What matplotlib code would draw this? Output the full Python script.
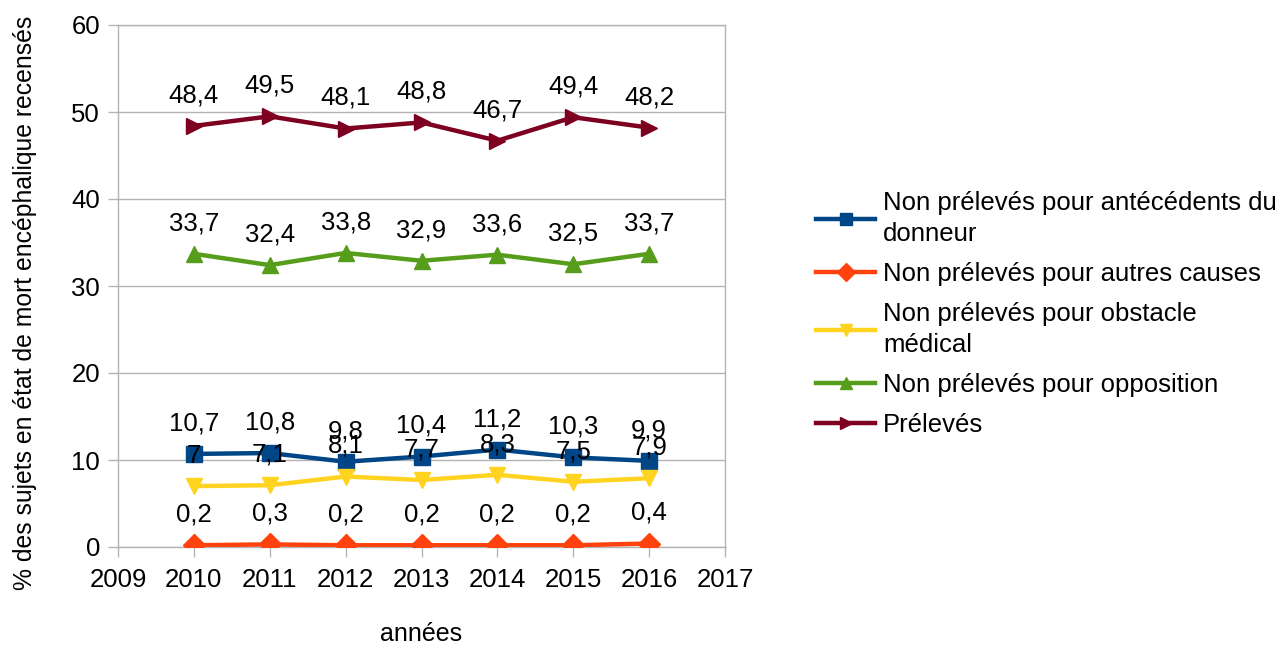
import matplotlib
matplotlib.use("Agg")
import matplotlib.pyplot as plt

plt.rcParams['font.family'] = ['Liberation Sans', 'DejaVu Sans']

years = [2010, 2011, 2012, 2013, 2014, 2015, 2016]
labels = [
    "Non prélevés pour antécédents du\ndonneur",
    "Non prélevés pour autres causes",
    "Non prélevés pour obstacle\nmédical",
    "Non prélevés pour opposition",
    "Prélevés",
]
antecedents = [10.7, 10.8, 9.8, 10.4, 11.2, 10.3, 9.9]
autres = [0.2, 0.3, 0.2, 0.2, 0.2, 0.2, 0.4]
obstacle = [7.0, 7.1, 8.1, 7.7, 8.3, 7.5, 7.9]
opposition = [33.7, 32.4, 33.8, 32.9, 33.6, 32.5, 33.7]
preleves = [48.4, 49.5, 48.1, 48.8, 46.7, 49.4, 48.2]

series = [antecedents, autres, obstacle, opposition, preleves]
colors = ["#004586", "#ff420e", "#ffd320", "#579d1c", "#7e0021"]
markers = ["s", "D", "v", "^", ">"]

FS = 18.5

fig = plt.figure(figsize=(12.78, 6.46), dpi=100)
ax = fig.add_axes([118/1278, 1-547/646, (725-118)/1278, (547-25)/646])

def fmt(v):
    if abs(v - round(v)) < 1e-9:
        return str(int(round(v)))
    return f"{v:.1f}".replace(".", ",")

for vals, lab, c, m in zip(series, labels, colors, markers):
    ax.plot(years, vals, color=c, marker=m, lw=3.2, markersize=11.5, label=lab, zorder=3)
    for x, y in zip(years, vals):
        ax.annotate(fmt(y), (x, y), xytext=(0, 22), textcoords="offset points",
                    ha="center", va="center", fontsize=FS, color="black", zorder=5)

ax.set_xlim(2009, 2017)
ax.set_ylim(0, 60)
ax.set_xticks(range(2009, 2018))
ax.set_yticks(range(0, 61, 10))
ax.tick_params(axis="both", labelsize=FS, color="#b3b3b3", length=7, width=1)
ax.tick_params(axis="x", pad=8)
ax.tick_params(axis="y", pad=6)
ax.yaxis.grid(True, color="#b3b3b3", lw=1)
ax.set_axisbelow(True)
for s in ax.spines.values():
    s.set_color("#b3b3b3")
    s.set_linewidth(1)

ax.set_xlabel("années", fontsize=18, labelpad=22)
ax.set_ylabel("% des sujets en état de mort encéphalique recensés", fontsize=17.8)
ax.yaxis.set_label_coords((37-118)/607, (547-302.5)/522)

leg = fig.legend(loc="center left", bbox_to_anchor=(793/1278, 1-314/646), frameon=False,
                 fontsize=FS, handlelength=2.3, handletextpad=0.3, labelspacing=0.62,
                 markerscale=0.8)
for t in leg.get_texts():
    t.set_linespacing(1.38)

fig.savefig("out.png", dpi=100)
